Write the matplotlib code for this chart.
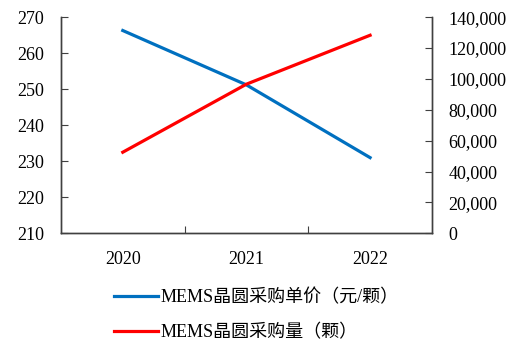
import matplotlib
matplotlib.use('Agg')
import matplotlib.pyplot as plt
from matplotlib.ticker import FuncFormatter

plt.rcParams['font.family'] = ['Liberation Serif', 'Noto Sans CJK SC']

years = ['2020', '2021', '2022']
price = [266.3, 251.2, 231.0]            # 元/颗
volume = [52500, 96600, 128300]          # 颗
price_label = 'MEMS晶圆采购单价（元/颗）'
volume_label = 'MEMS晶圆采购量（颗）'

fig = plt.figure(figsize=(5.21, 3.44), dpi=100)
ax = fig.add_axes([0.117, 0.322, 0.712, 0.628])
ax2 = ax.twinx()

x = range(len(years))
l1, = ax.plot(x, price, color='#0070C0', lw=2.3, label=price_label)
l2, = ax2.plot(x, volume, color='#FF0000', lw=2.3, label=volume_label)

ax.set_xlim(-0.5, len(years) - 0.5)
ax.set_ylim(210, 270)
ax.set_yticks(range(210, 271, 10))
ax2.set_ylim(0, 140000)
ax2.set_yticks(range(0, 140001, 20000))
ax2.yaxis.set_major_formatter(FuncFormatter(lambda v, p: f'{int(v):,}'))

ax.set_xticks([0.5, 1.5])
ax.set_xticklabels([])
ax.set_xticks(list(x), minor=True)
ax.set_xticklabels(years, minor=True)
ax.tick_params(axis='x', which='minor', length=0, pad=13, labelsize=13)
ax.tick_params(axis='x', which='major', direction='in', length=5, color='#404040')

for a in (ax, ax2):
    a.spines['top'].set_visible(False)
    for s in ['left', 'right', 'bottom']:
        a.spines[s].set_color('#404040')
        a.spines[s].set_linewidth(1.0)
    a.tick_params(axis='y', direction='in', length=5, labelsize=13, color='#404040', pad=12)

fig.legend(handles=[l1, l2], loc='upper left', bbox_to_anchor=(0.219, 0.16),
           frameon=False, fontsize=13, handlelength=2.45, handletextpad=0.12,
           labelspacing=1.0, borderpad=0, borderaxespad=0)

fig.savefig('out.png', dpi=100)
